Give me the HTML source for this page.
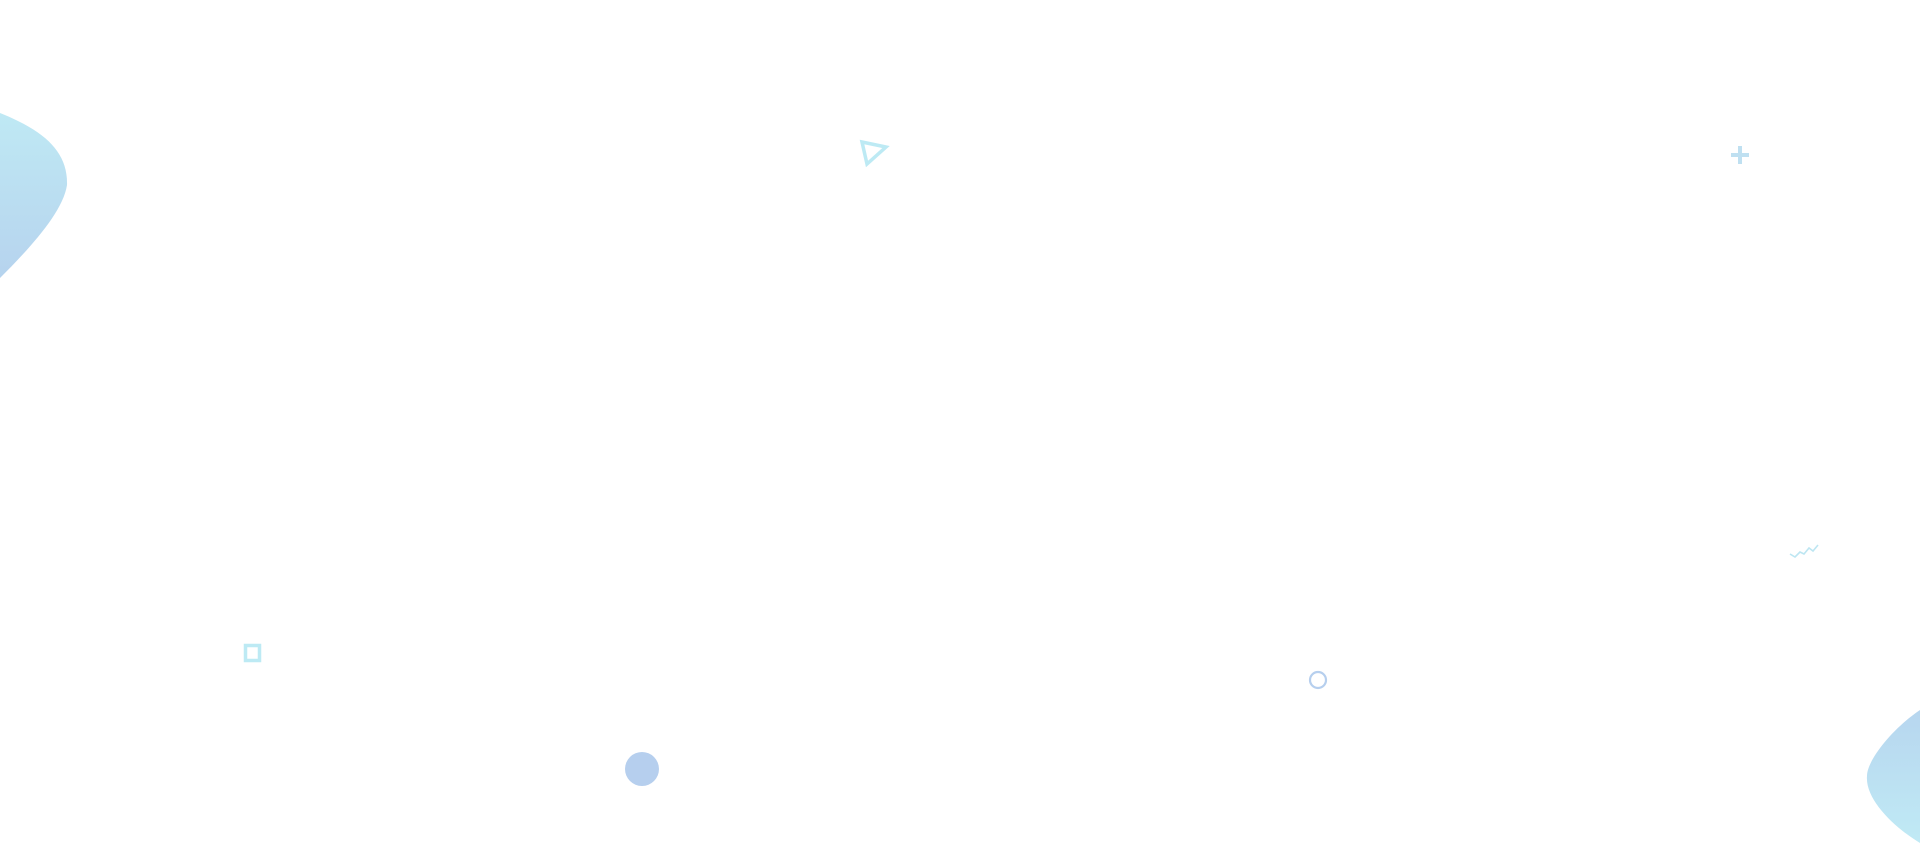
<!DOCTYPE html>
<html><head><meta charset="utf-8"><style>
html,body{margin:0;padding:0;background:#fff;width:1920px;height:860px;overflow:hidden}
svg{display:block}
</style></head><body>
<svg width="1920" height="860" viewBox="0 0 1920 860" xmlns="http://www.w3.org/2000/svg">
<defs>
<linearGradient id="g1" x1="0" y1="0" x2="0" y2="1">
<stop offset="0" stop-color="#bfe9f4"/><stop offset="1" stop-color="#b6d3ee"/></linearGradient>
<linearGradient id="g2" x1="0" y1="0" x2="0" y2="1">
<stop offset="0" stop-color="#b7d6ef"/><stop offset="1" stop-color="#c0eaf5"/></linearGradient>
</defs>
<path d="M0,113 C42,130 68,150 67,185 C63,212 30,248 0,278 Z" fill="url(#g1)"/>
<path d="M1920,710 C1893,728 1867,760 1867,776 C1865,800 1895,828 1920,843 Z" fill="url(#g2)"/>
<polygon points="862,142 886,147 867,164" fill="none" stroke="#bdeaf4" stroke-width="3.5" stroke-linejoin="miter"/>
<rect x="245.5" y="645.5" width="14" height="15" fill="none" stroke="#bdeaf4" stroke-width="3.5"/>
<circle cx="642" cy="769" r="17" fill="#b6cfee"/>
<circle cx="1318" cy="680" r="8" fill="none" stroke="#b6cfee" stroke-width="2.2"/>
<path d="M1740,146 v18 M1731,155 h18" stroke="#bfe0f1" stroke-width="4"/>
<polyline points="1790,554 1795,557 1800,552 1804,554 1809,548 1813,551 1818,545" fill="none" stroke="#bde6f2" stroke-width="1.6"/>
</svg>
</body></html>
